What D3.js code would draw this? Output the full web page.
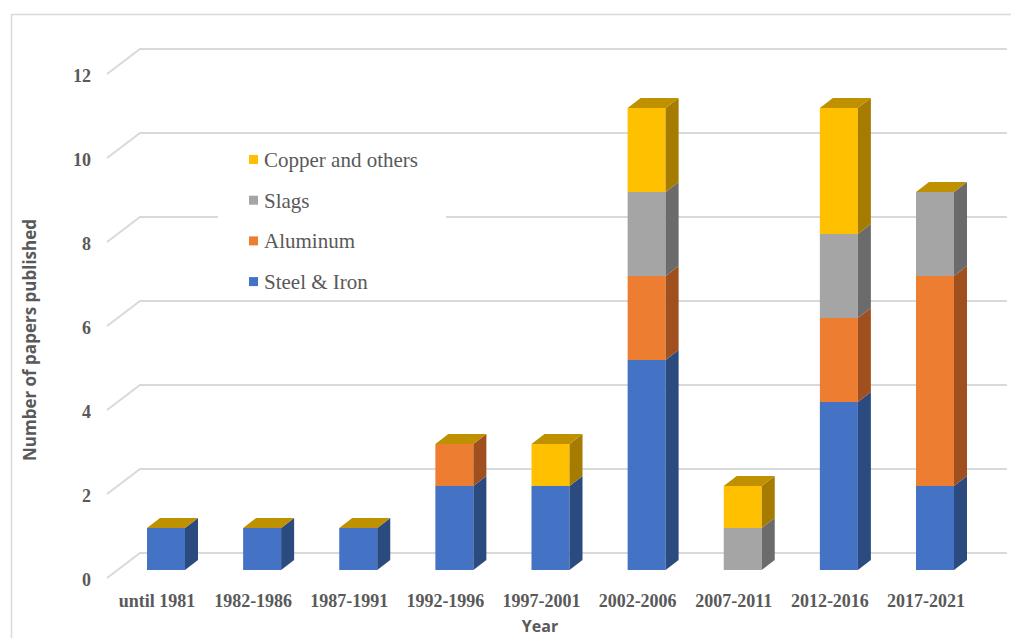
<!DOCTYPE html>
<html>
<head>
<meta charset="utf-8">
<script src="https://cdn.jsdelivr.net/npm/d3@7"></script>
<style>
  body { margin: 0; background: #fff; }
  svg { display: block; }
</style>
</head>
<body>
<div class="chart"></div>
<script>
// data
const periods = ['until 1981', '1982-1986', '1987-1991', '1992-1996', '1997-2001',
                 '2002-2006', '2007-2011', '2012-2016', '2017-2021'];
const steelIron = [1, 1, 1, 2, 2, 5, 0, 4, 2];
const aluminum  = [0, 0, 0, 1, 0, 2, 0, 2, 5];
const slags     = [0, 0, 0, 0, 0, 2, 1, 2, 2];
const copper    = [0, 0, 0, 0, 1, 2, 1, 3, 0];
const yTicks = [0, 2, 4, 6, 8, 10, 12];

const seriesNames = ['Steel & Iron', 'Aluminum', 'Slags', 'Copper and others'];
const front = ['#4472C4', '#ED7D31', '#A5A5A5', '#FFC000'];
const side  = ['#2B4A80', '#A0501E', '#6B6B6B', '#A67C00'];
const topColor = '#BF9000';

const width = 1011, height = 638;
const svg = d3.select('.chart').append('svg')
    .attr('width', width)
    .attr('height', height);

// chart frame
svg.append('path')
    .attr('d', 'M11.5,640 L11.5,14.5 L1020,14.5')
    .attr('fill', 'none')
    .attr('stroke', '#d9d9d9')
    .attr('stroke-width', 1.5);

const yFront = d3.scaleLinear().domain([0, 12]).range([570, 66]);
const yBack  = d3.scaleLinear().domain([0, 12]).range([553, 49]);
const x = d3.scalePoint().domain(periods).range([166, 935]);
const barW = 38, dx = 13, dy = -10;

// gridlines on the back wall + floor diagonal
const grid = svg.append('g').attr('stroke', '#d9d9d9').attr('stroke-width', 2).attr('fill', 'none');
grid.selectAll('path')
    .data(yTicks)
    .enter()
    .append('path')
    .attr('d', d => `M107,${yBack(d) + 25} L140,${yBack(d)} L1007,${yBack(d)}`);

svg.selectAll('.ytick')
    .data(yTicks)
    .enter()
    .append('text')
    .attr('class', 'ytick')
    .attr('x', 91)
    .attr('y', d => yBack(d) + 33)
    .attr('text-anchor', 'end')
    .attr('font-family', 'Liberation Serif')
    .attr('font-weight', 'bold')
    .attr('font-size', 18)
    .attr('fill', '#595959')
    .text(d => d);

// stack the series
const rows = periods.map((p, i) => ({
    period: p, s0: steelIron[i], s1: aluminum[i], s2: slags[i], s3: copper[i]
}));
const stacked = d3.stack().keys(['s0', 's1', 's2', 's3'])(rows);

const bars = svg.append('g');
stacked.forEach((layer, si) => {
    layer.forEach(seg => {
        const v0 = seg[0], v1 = seg[1];
        if (v1 - v0 <= 0) return;
        const cx = x(seg.data.period);
        const x0 = cx - barW / 2, x1 = cx + barW / 2;
        const yt = yFront(v1), yb = yFront(v0);
        bars.append('rect')
            .attr('x', x0).attr('y', yt)
            .attr('width', barW).attr('height', yb - yt)
            .attr('fill', front[si]);
        bars.append('path')
            .attr('d', `M${x1},${yt} L${x1 + dx},${yt + dy} L${x1 + dx},${yb + dy} L${x1},${yb} Z`)
            .attr('fill', side[si]);
    });
});

// top faces
rows.forEach(r => {
    const total = r.s0 + r.s1 + r.s2 + r.s3;
    const cx = x(r.period);
    const x0 = cx - barW / 2, x1 = cx + barW / 2;
    const yt = yFront(total);
    bars.append('path')
        .attr('d', `M${x0},${yt} L${x0 + dx},${yt + dy} L${x1 + dx},${yt + dy} L${x1},${yt} Z`)
        .attr('fill', topColor);
});

// category labels
svg.selectAll('.xlab')
    .data(periods)
    .enter()
    .append('text')
    .attr('class', 'xlab')
    .attr('x', d => x(d) - 9)
    .attr('y', 607)
    .attr('text-anchor', 'middle')
    .attr('font-family', 'Liberation Serif')
    .attr('font-weight', 'bold')
    .attr('font-size', 18)
    .attr('fill', '#595959')
    .text(d => d);

// axis titles
svg.append('text')
    .attr('x', 540).attr('y', 632)
    .attr('text-anchor', 'middle')
    .attr('font-family', 'Open Sans')
    .attr('font-weight', 'bold')
    .attr('font-size', 16)
    .attr('fill', '#595959')
    .text('Year');

svg.append('text')
    .attr('transform', 'translate(36,340) rotate(-90)')
    .attr('text-anchor', 'middle')
    .attr('font-family', 'Open Sans')
    .attr('font-weight', 'bold')
    .attr('font-size', 17)
    .attr('fill', '#595959')
    .text('Number of papers published');

// legend (top series first)
svg.append('rect')
    .attr('x', 218).attr('y', 137)
    .attr('width', 228).attr('height', 162)
    .attr('fill', '#fff');

const legendOrder = [3, 2, 1, 0];
const leg = svg.append('g');
legendOrder.forEach((si, k) => {
    const cy = 160 + k * 40.7;
    leg.append('rect')
        .attr('x', 249).attr('y', cy - 5)
        .attr('width', 9).attr('height', 9)
        .attr('fill', front[si]);
    leg.append('text')
        .attr('x', 264).attr('y', cy + 7)
        .attr('font-family', 'Liberation Serif')
        .attr('font-size', 21)
        .attr('fill', '#595959')
        .text(seriesNames[si]);
});
</script>
</body>
</html>
